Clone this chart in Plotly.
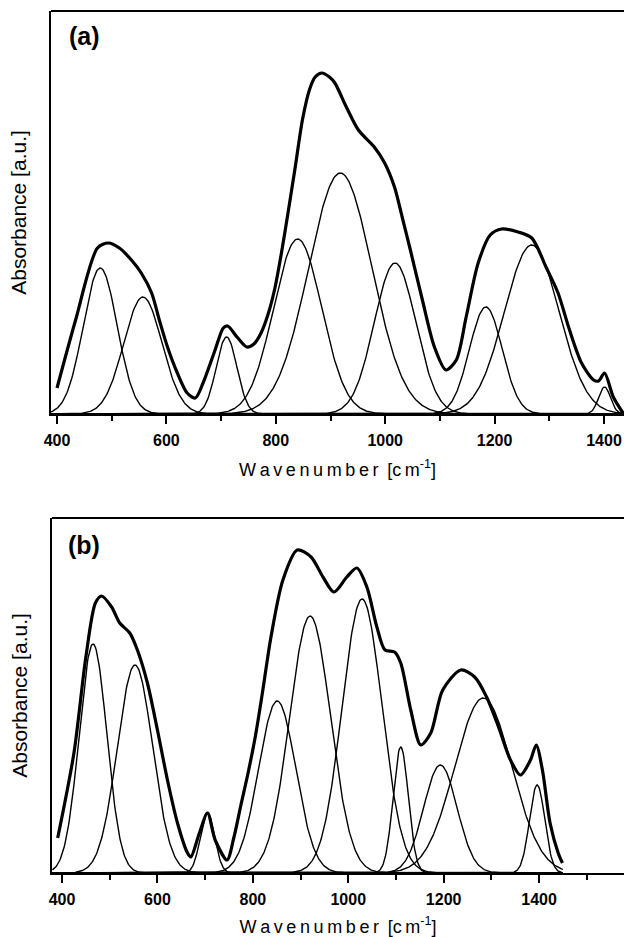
import numpy as np
import plotly.graph_objects as go

# ---------------- data ----------------
# Panel (a): fitted component bands (centre cm-1, height a.u., width sigma cm-1)
a_centers = [479, 557, 710, 840, 918, 1018, 1184, 1268, 1401]
a_heights = [1.46, 1.17, 0.77, 1.75, 2.41, 1.51, 1.07, 1.69, 0.27]
a_sigmas = [31, 35, 19, 44, 58, 38, 30, 50, 11]
# Panel (a): measured spectrum (envelope)
a_env_x = [400, 434, 474, 494, 514, 536, 554, 573, 587, 602, 620, 638, 653, 667, 689,
           704, 712, 729, 747, 760, 773, 786, 798, 810, 822, 835, 849, 862, 872, 884,
           898, 908, 929, 951, 980, 999, 1017, 1031, 1046, 1068, 1090, 1111, 1130, 1148,
           1170, 1192, 1213, 1243, 1268, 1294, 1316, 1337, 1359, 1381, 1390, 1401, 1417, 1436]
a_env_y = [0.26, 0.94, 1.66, 1.71, 1.66, 1.54, 1.41, 1.21, 0.94, 0.67, 0.41, 0.21, 0.16,
           0.31, 0.64, 0.86, 0.88, 0.77, 0.67, 0.70, 0.81, 1.00, 1.25, 1.60, 2.00, 2.45,
           2.95, 3.25, 3.37, 3.41, 3.37, 3.31, 3.07, 2.84, 2.67, 2.51, 2.27, 1.97, 1.64,
           1.14, 0.67, 0.44, 0.54, 0.97, 1.51, 1.79, 1.85, 1.82, 1.76, 1.47, 1.21, 0.84,
           0.51, 0.34, 0.33, 0.41, 0.17, 0.0]

# Panel (b): fitted component bands
b_centers = [465, 553, 705, 851, 920, 1029, 1110, 1193, 1283, 1396]
b_heights = [2.29, 2.08, 0.60, 1.72, 2.57, 2.74, 1.26, 1.08, 1.75, 0.88]
b_sigmas = [29, 37, 15, 39, 43, 42, 16, 35, 60, 16]
# Panel (b): measured spectrum (envelope)
b_env_x = [391, 425, 450, 470, 483, 504, 521, 542, 558, 579, 600, 621, 642, 663, 670,
           688, 705, 721, 746, 760, 775, 790, 805, 820, 838, 863, 893, 922, 947, 970,
           997, 1018, 1039, 1060, 1077, 1097, 1110, 1131, 1152, 1173, 1198, 1236, 1265,
           1290, 1315, 1340, 1361, 1382, 1394, 1407, 1423, 1440, 1449]
b_env_y = [0.35, 1.20, 2.16, 2.70, 2.77, 2.66, 2.50, 2.40, 2.23, 1.90, 1.43, 0.93, 0.50,
           0.20, 0.16, 0.40, 0.60, 0.33, 0.13, 0.35, 0.68, 1.00, 1.36, 1.80, 2.36, 2.93,
           3.23, 3.16, 2.96, 2.81, 2.96, 3.05, 2.86, 2.46, 2.23, 2.21, 2.10, 1.63, 1.28,
           1.40, 1.83, 2.03, 1.96, 1.76, 1.46, 1.13, 0.98, 1.13, 1.28, 1.03, 0.50, 0.20, 0.10]

tick_vals = [400, 600, 800, 1000, 1200, 1400]
tick_text = ["400", "600", "800", "1000", "1200", "1400"]
panel_labels = ["(a)", "(b)"]
x_title_word = "Wavenumber"
x_title_unit = "cm"
y_title = "Absorbance [a.u.]"

# ---------------- figure ----------------
W, H = 624, 937
fig = go.Figure()

def band(xs, c, h, s):
    return [h * np.exp(-0.5 * ((x - c) / s) ** 2) for x in xs]

def add_panel(centers, heights, sigmas, ex, ey, xmax, xa, ya):
    xs = np.linspace(380, xmax, 700)
    for c, h, s in zip(centers, heights, sigmas):
        fig.add_trace(go.Scatter(x=xs, y=band(xs, c, h, s), mode="lines",
                                 line=dict(color="black", width=1.4),
                                 xaxis=xa, yaxis=ya, showlegend=False, hoverinfo="skip"))
    fig.add_trace(go.Scatter(x=ex, y=ey, mode="lines",
                             line=dict(color="black", width=3.2, shape="spline", smoothing=0.8),
                             xaxis=xa, yaxis=ya, showlegend=False, hoverinfo="skip"))

add_panel(a_centers, a_heights, a_sigmas, a_env_x, a_env_y, 1440, "x", "y")
add_panel(b_centers, b_heights, b_sigmas, b_env_x, b_env_y, 1450, "x2", "y2")

def spaced(s):
    return "\u2009".join(list(s))

xtitle_sp = spaced(x_title_word) + "\u2009 [" + spaced(x_title_unit) + "<sup>-1</sup>]"

tickfont = dict(family="Liberation Sans", size=16, color="black", weight="bold")
xcommon = dict(showline=True, linecolor="black", linewidth=2, mirror=False, automargin=False,
               ticks="outside", ticklen=8, tickwidth=1.5, tickcolor="black",
               tickvals=tick_vals, ticktext=tick_text, ticklabelstandoff=3,
               tickfont=tickfont, showgrid=False, zeroline=False, ticklabeloverflow="allow",
               minor=dict(ticks="outside", ticklen=5, tickwidth=1.5, tickcolor="black",
                          dtick=100, tick0=400, showgrid=False),
               title=dict(text=xtitle_sp, font=dict(family="Liberation Sans", size=18, color="black"),
                          standoff=15))
ycommon = dict(showline=True, linecolor="black", linewidth=2, showticklabels=False, automargin=False,
               ticks="", showgrid=False, zeroline=False,
               title=dict(text=y_title, font=dict(family="Liberation Sans", size=21, color="black"),
                          standoff=17))

a_top, a_bot = 11, 414
b_top, b_bot = 518, 873
fig.update_layout(
    width=W, height=H, margin=dict(l=0, r=0, t=0, b=0, autoexpand=False),
    paper_bgcolor="white", plot_bgcolor="white",
    xaxis=dict(xcommon, domain=[51 / W, 1], range=[389, 1436.6], anchor="y"),
    yaxis=dict(ycommon, domain=[(H - a_bot) / H, (H - a_top) / H], range=[0, 4.03], anchor="x"),
    xaxis2=dict(xcommon, domain=[52 / W, 1], range=[379, 1578], anchor="y2"),
    yaxis2=dict(ycommon, domain=[(H - b_bot) / H, (H - b_top) / H], range=[0, 3.55], anchor="x2"),
)

for xr, yr in (("x domain", "y domain"), ("x2 domain", "y2 domain")):
    fig.add_shape(type="line", xref=xr, yref=yr, x0=0, x1=1, y0=1, y1=1,
                  line=dict(color="black", width=2))

for lab, yc in zip(panel_labels, (36, 545)):
    fig.add_annotation(text="<b>" + lab + "</b>", xref="paper", yref="paper",
                       x=84 / W, y=(H - yc) / H, xanchor="center", yanchor="middle",
                       showarrow=False,
                       font=dict(family="Liberation Sans", size=25, color="black"))

fig.write_html("out.html")
